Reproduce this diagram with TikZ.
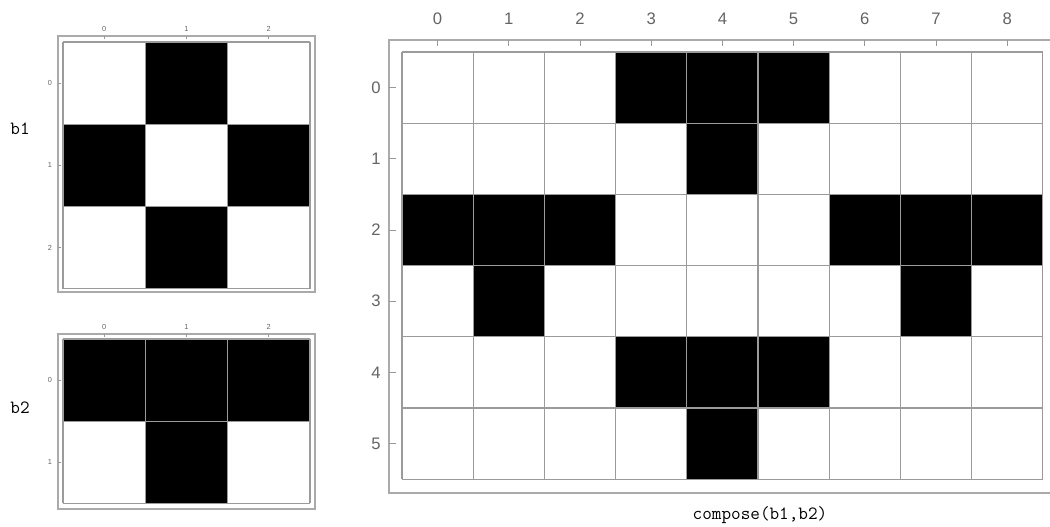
\documentclass[tikz,border=0pt]{standalone}
\usepackage{fontspec}
\setsansfont{Liberation Sans}
\usetikzlibrary{positioning}
\definecolor{gridgray}{RGB}{155, 155, 155}
\definecolor{framegray}{RGB}{170, 170, 170}
\definecolor{ticktext}{RGB}{100, 100, 100}

\begin{document}
\begin{tikzpicture}[
    x=0.75pt, y=-0.75pt,
    % Styles for the plots
    gridline/.style={draw=gridgray, line width=1pt},
    frameline/.style={draw=framegray, line width=1.3pt},
    tickline/.style={draw=gray!80, line width=0.6pt},
    bigtick/.style={text=ticktext, font=\sffamily\fontsize{12.5}{14}\selectfont, inner sep=0pt},
    smalltick/.style={text=ticktext, font=\sffamily\fontsize{5.5}{6}\selectfont, inner sep=0pt},
    namelabel/.style={font=\ttfamily\fontsize{14}{16}\selectfont, inner sep=0pt}
]
    \useasboundingbox (0,0) rectangle (1050,526);

    % --- SMALL PLOT b1 (3x3) ---
    \draw [frameline] (58,36) rectangle (315,292);
    \foreach \r/\c in {0/1, 1/0, 1/2, 2/1}
        \fill [black] (63+\c*82.3, 42+\r*82.2) rectangle ++(82.3,82.2);
    \foreach \i in {0,...,3}
        \draw [gridline] (63+\i*82.3,42) -- ++(0,246.6);
    \foreach \j in {0,...,3}
        \draw [gridline] (63,42+\j*82.2) -- ++(246.9,0);
    \foreach \i in {0,1,2} {
        \draw [tickline] (104.15+\i*82.3,36) -- ++(0,3);
        \node [smalltick] (bax\i) at (104.15+\i*82.3,29) {\i};
        \draw [tickline] (58,83.1+\i*82.2) -- ++(3,0);
        \node [smalltick] (bay\i) at (50,83.1+\i*82.2) {\i};
    }
    \node [namelabel] (bone) at (20,129) {b1};

    % --- SMALL PLOT b2 (2x3) ---
    \draw [frameline] (58,334) rectangle (315,509);
    \foreach \r/\c in {0/0, 0/1, 0/2, 1/1}
        \fill [black] (63+\c*82.3, 339+\r*82.2) rectangle ++(82.3,82.2);
    \foreach \i in {0,...,3}
        \draw [gridline] (63+\i*82.3,339) -- ++(0,164.4);
    \foreach \j in {0,...,2}
        \draw [gridline] (63,339+\j*82.2) -- ++(246.9,0);
    \foreach \i in {0,1,2} {
        \draw [tickline] (104.15+\i*82.3,334) -- ++(0,3);
        \node [smalltick] (bbx\i) at (104.15+\i*82.3,327) {\i};
    }
    \foreach \i in {0,1} {
        \draw [tickline] (58,380.1+\i*82.2) -- ++(3,0);
        \node [smalltick] (bby\i) at (50,380.1+\i*82.2) {\i};
    }
    \node [namelabel] (btwo) at (20,408) {b2};

    % --- BIG PLOT compose(b1,b2) (6x9) ---
    \draw [frameline] (1050,40) -- (389,40) -- (389,493) -- (1050,493);
    \foreach \r/\c in {0/3, 0/4, 0/5, 1/4, 2/0, 2/1, 2/2, 2/6, 2/7, 2/8, 3/1, 3/7, 4/3, 4/4, 4/5, 5/4}
        \fill [black] (402+\c*71.2, 52+\r*71.2) rectangle ++(71.2,71.2);
    \foreach \i in {0,...,9}
        \draw [gridline] (402+\i*71.2,52) -- ++(0,427.2);
    \foreach \j in {0,...,6}
        \draw [gridline] (402,52+\j*71.2) -- ++(640.8,0);
    \foreach \i in {0,...,8} {
        \draw [tickline] (437.6+\i*71.2,40) -- ++(0,6);
        \node [bigtick] (cx\i) at (437.6+\i*71.2,19) {\i};
    }
    \foreach \i in {0,...,5} {
        \draw [tickline] (389,87.6+\i*71.2) -- ++(7,0);
        \node [bigtick] (cy\i) at (376,87.6+\i*71.2) {\i};
    }
    \node [namelabel] (comp) at (760,515) {compose(b1,b2)};

\end{tikzpicture}
\end{document}
